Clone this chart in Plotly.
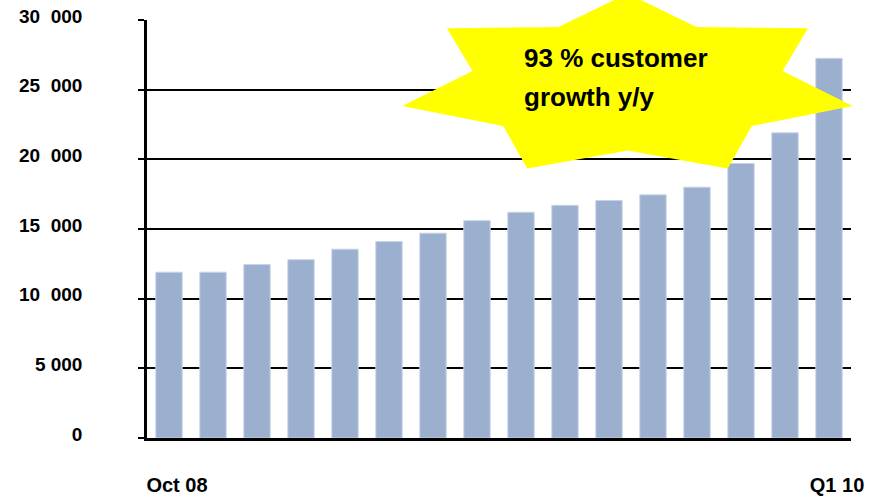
import math
import plotly.graph_objects as go

# ---- data ----
periods = [f"P{i}" for i in range(1, 17)]
customers = [11900, 11900, 12450, 12800, 13550, 14100, 14700, 15600,
             16200, 16700, 17050, 17450, 18000, 19700, 21900, 27250]
y_tick_vals = [0, 5000, 10000, 15000, 20000, 25000, 30000]
y_tick_text = ["0", "5 000", "10\u00a0 000", "15\u00a0 000", "20\u00a0 000", "25\u00a0 000", "30\u00a0 000"]
x_tick_vals = [periods[0], periods[-1]]
x_tick_text = ["Oct 08", "Q1 10"]
callout_lines = ["93 % customer", "growth y/y"]

W, H = 871, 499
L, R, T, B = 147, 20, 20, 61
PW, PH = W - L - R, H - T - B

def px2paper(px, py):
    return (px - L) / PW, (H - B - py) / PH

fig = go.Figure()
fig.add_trace(go.Bar(
    x=periods, y=customers,
    marker=dict(color="#9BB0CE", line=dict(color="#C8D4E6", width=1)),
    width=0.6,
))

# star callout (7 points, stretched)
cx, cy = 627.5, 85.5
ro_x, ro_y, ri_x, ri_y = 231, 92, 159, 65
n = 7
pts = []
for k in range(2 * n):
    ang = math.radians(90 - k * 180 / n)
    if k % 2 == 0:
        px, py = cx + ro_x * math.cos(ang), cy - ro_y * math.sin(ang)
    else:
        px, py = cx + ri_x * math.cos(ang), cy - ri_y * math.sin(ang)
    pts.append(px2paper(px, py))
path = "M " + " L ".join(f"{x:.5f},{y:.5f}" for x, y in pts) + " Z"
fig.add_shape(type="path", path=path, xref="paper", yref="paper",
              fillcolor="#FFFF00", line=dict(width=0), layer="above")

font_b = "Liberation Sans, Arial, sans-serif"
for txt, py in zip(callout_lines, [58, 97]):
    x0, y0 = px2paper(522, py)
    fig.add_annotation(x=x0, y=y0, xref="paper", yref="paper", text=f"<b>{txt}</b>",
                       showarrow=False, xanchor="left", yanchor="middle",
                       font=dict(family=font_b, size=26, color="black"))

fig.update_layout(
    width=W, height=H,
    margin=dict(l=L, r=R, t=T, b=B, autoexpand=False),
    paper_bgcolor="white", plot_bgcolor="white",
    showlegend=False,
    bargap=0.39,
    font=dict(family=font_b, color="black"),
)
fig.update_yaxes(
    range=[0, 30000], tickvals=y_tick_vals, ticktext=[f"<b>{t}</b>" for t in y_tick_text],
    showgrid=True, gridcolor="black", gridwidth=2,
    showline=True, linecolor="black", linewidth=2.5,
    ticks="outside", ticklen=6, tickwidth=2, tickcolor="black",
    zeroline=False, ticklabelstandoff=52, ticklabelshift=-4, automargin=False,
    tickfont=dict(family=font_b, size=19, color="black"),
)
fig.update_xaxes(
    tickvals=x_tick_vals, ticktext=[f"<b>{t}</b>" for t in x_tick_text],
    showline=True, linecolor="black", linewidth=2.5,
    ticks="", showgrid=False, ticklabelstandoff=27, ticklabelshift=8,
    automargin=False,
    tickfont=dict(family=font_b, size=20, color="black"),
    range=[-0.5, 15.5],
)

fig.write_html("out.html")
